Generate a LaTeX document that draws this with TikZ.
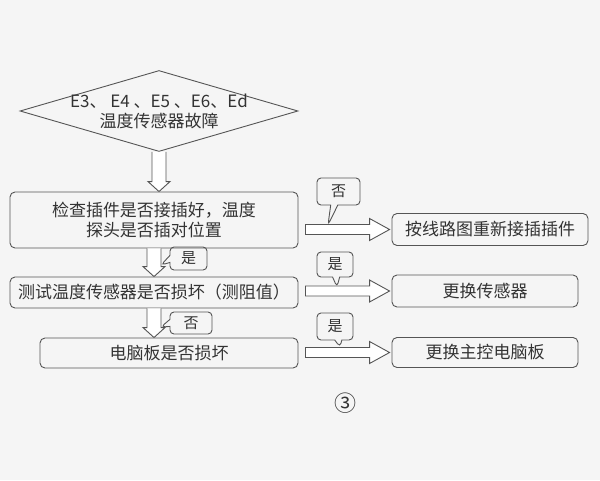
\documentclass[tikz,border=0pt]{standalone}
\usepackage{fontspec}
\setmainfont{Noto Sans CJK SC}
\usetikzlibrary{shapes.geometric,shapes.callouts,calc}
\definecolor{ln}{HTML}{555555}
\definecolor{tx}{HTML}{333333}
\tikzset{
  box/.style={draw=ln, line width=0.9pt, rounded corners=5pt, text=tx, inner sep=0pt,
    font=\fontsize{17}{20}\selectfont, align=center},
  tag/.style={rectangle callout, draw=ln, line width=0.9pt, rounded corners=4pt, text=tx,
    inner sep=0pt, font=\fontsize{15}{18}\selectfont},
  harrow/.style={draw=ln, line width=0.9pt, fill=white, line join=miter}
}
\newcommand{\hollowdown}[2]{%
  \draw[harrow] let \p1=(#1), \p2=(#2) in
    (\x1-7pt,\y1) -- (\x1-7pt,\y2+10pt) -- (\x1-11pt,\y2+10pt) -- (\x1,\y2)
    -- (\x1+11pt,\y2+10pt) -- (\x1+7pt,\y2+10pt) -- (\x1+7pt,\y1);}
\newcommand{\hollowright}[2]{%
  \draw[harrow] let \p1=(#1), \p2=(#2) in
    (\x1+7pt,\y2+5pt) -- (\x2-22pt,\y2+5pt) -- (\x2-22pt,\y2+11pt) -- (\x2-2pt,\y2)
    -- (\x2-22pt,\y2-11pt) -- (\x2-22pt,\y2-5pt) -- (\x1+7pt,\y2-5pt) -- cycle;}
\begin{document}
\begin{tikzpicture}[x=1pt,y=-1pt]
\useasboundingbox[fill=white!96!black] (0,0) rectangle (600,480);

% decision diamond
\node[diamond, draw=ln, line width=0.9pt, minimum width=278pt, minimum height=81pt, inner sep=0pt] (d) at (159,111) {};
\node[text=tx, align=center, font=\fontsize{17}{20}\selectfont] (dt) at (d.center) {E3、 E4 、E5 、E6、Ed\\温度传感器故障};

% left column boxes
\node[box, minimum width=288pt, minimum height=56pt] (b1) at (154,220) {检查插件是否接插好，温度\\探头是否插对位置};
\node[box, minimum width=288pt, minimum height=31pt] (b2) at (154,292.5) {测试温度传感器是否损坏（测阻值）};
\node[box, minimum width=258pt, minimum height=30pt] (b3) at (169,353) {电脑板是否损坏};

% right column boxes
\node[box, minimum width=196pt, minimum height=32pt] (r1) at (490,229.5) {按线路图重新接插插件};
\node[box, minimum width=186pt, minimum height=32pt] (r2) at (485,291) {更换传感器};
\node[box, minimum width=186pt, minimum height=30pt] (r3) at (485,352.5) {更换主控电脑板};

% hollow arrows
\hollowdown{d.south}{b1.north}
\hollowdown{b1.south}{b2.north}
\hollowdown{b2.south}{b3.north -| b2.south}
\hollowright{b1.east}{r1.west}
\hollowright{b2.east}{r2.west}
\hollowright{b3.east}{r3.west}

% labels
\node[tag, minimum width=37pt, minimum height=23pt, callout absolute pointer={(161,265)}] (l1) at (188.5,258.5) {是};
\node[tag, minimum width=42pt, minimum height=22pt, callout absolute pointer={(161,327)}] (l2) at (191,323) {否};
\node[tag, minimum width=43pt, minimum height=27pt, callout absolute pointer={(328,225)}] (l3) at (338.5,191.5) {否};
\node[tag, minimum width=36pt, minimum height=25pt, callout absolute pointer={(337,287)}] (l4) at (335,264.5) {是};
\node[tag, minimum width=36pt, minimum height=27pt, callout absolute pointer={(340,347)}] (l5) at (335,326.5) {是};

% figure number
\node[text=tx, font=\fontsize{22}{24}\selectfont] (num) at (345,403) {③};
\end{tikzpicture}
\end{document}
